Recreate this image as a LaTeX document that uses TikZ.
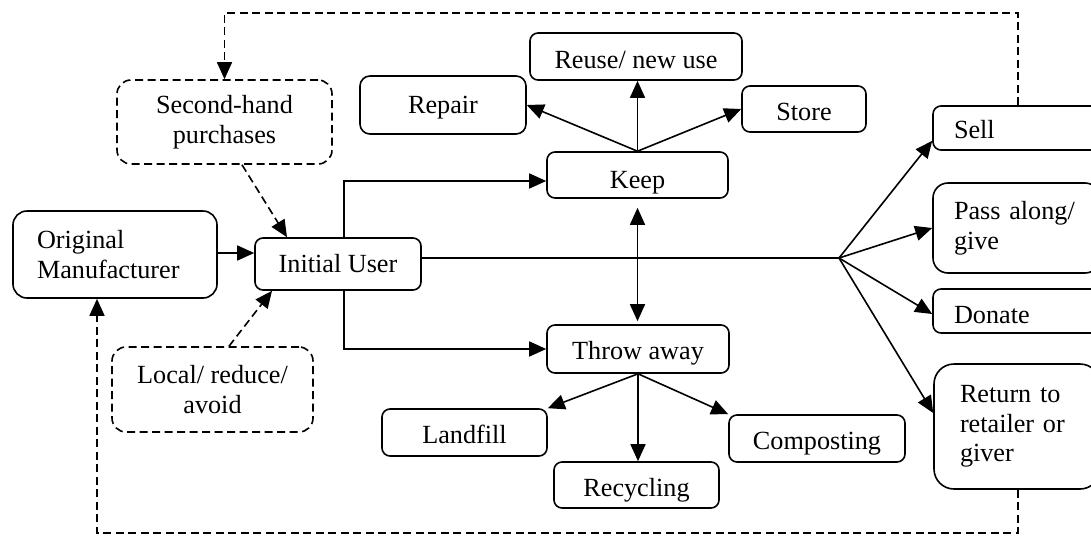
\documentclass[tikz,border=0pt]{standalone}
\usepackage{fontspec}
\setmainfont{Liberation Serif}
\usetikzlibrary{arrows.meta}
\begin{document}
\begin{tikzpicture}[x=1pt,y=-1pt,
  box/.style={draw, line width=1.6pt, inner sep=0pt, rounded corners=8pt,
    font=\fontsize{26.2}{29.5}\selectfont},
  vb/.style 2 args={text height=#1, text depth=#2, anchor=base},
  dsh/.style={dash pattern=on 8pt off 4.5pt},
  arr/.style={line width=1.6pt, -{Triangle[length=17pt,width=15pt]}},
  darr/.style={line width=1.6pt, {Triangle[length=17pt,width=15pt]}-{Triangle[length=17pt,width=15pt]}},
  ln/.style={line width=1.6pt}]
\useasboundingbox (0,0) rectangle (1091,536);
\clip (0,0) rectangle (1091,536);

% single-line nodes (placed by baseline)
\node[box, vb={37pt}{21pt}, minimum width=166pt, rounded corners=10pt] (repair) at (443,113) {Repair};
\node[box, vb={35pt}{12pt}, minimum width=212pt] (reuse) at (636,68) {Reuse/ new use};
\node[box, vb={34pt}{12pt}, minimum width=124pt] (store) at (804,120) {Store};
\node[box, vb={36pt}{10pt}, minimum width=181pt] (keep) at (637.5,188) {Keep};
\node[box, vb={34pt}{18pt}, minimum width=166pt] (user) at (338,272) {Initial User};
\node[box, vb={34pt}{14pt}, minimum width=182pt] (throw) at (638,359) {Throw away};
\node[box, vb={34pt}{13pt}, minimum width=165pt] (landfill) at (464.5,443) {Landfill};
\node[box, vb={34pt}{12pt}, minimum width=165pt] (recyc) at (636.5,496) {Recycling};
\node[box, vb={34pt}{13pt}, minimum width=176pt] (compost) at (817,449) {Composting};
\node[box, vb={32pt}{12pt}, minimum width=167pt, text width=125pt, align=left] (sell) at (1016.5,138) {Sell};
\node[box, vb={34pt}{10pt}, minimum width=167pt, text width=125pt, align=left] (donate) at (1016.5,323) {Donate};

% multi-line nodes
\node[box, dsh, minimum width=215pt, minimum height=84pt, align=center, rounded corners=14pt] (second) at (224.5,122) {Second-hand\\purchases};
\node[box, dsh, minimum width=201pt, minimum height=85pt, align=center, rounded corners=14pt] (local) at (212.5,389.5) {Local/ reduce/\\avoid};
\node[box, minimum width=204pt, minimum height=87pt, text width=156pt, align=left, rounded corners=14pt] (mfr) at (115,254.5) {Original\\Manufacturer};
\node[box, minimum width=167pt, minimum height=90pt, text width=125pt, align=left, rounded corners=15pt] (pass) at (1016.5,228) {Pass along/\\give};
\node[box, minimum width=166pt, minimum height=125pt, text width=114pt, align=left, rounded corners=20pt] (ret) at (1017,426.5) {Return to\\retailer or\\giver};

\coordinate (fan) at (839,258);
\coordinate (tr) at (1018,13);
\coordinate (bl) at (97,533);

% connectors
\draw[arr] (mfr.east |- 0,253) -- (user.west |- 0,253);
\draw[arr, dsh] ([xshift=17.5pt]second.south) -- ([xshift=-51pt]user.north);
\draw[arr, dsh] ([xshift=16.5pt]local.north) -- ([xshift=-66pt]user.south);
\draw[arr] ([xshift=6pt]user.north) |- ([yshift=-6pt]keep.west);
\draw[arr] ([xshift=6pt]user.south) |- (throw.west);
\draw[ln] (user.east |- fan) -- (fan);
\draw[arr] (fan) -- ([yshift=10pt]sell.south west);
\draw[arr] (fan) -- (pass.west);
\draw[arr] (fan) -- ([yshift=-3pt]donate.west);
\draw[arr] (fan) -- ([yshift=13.5pt]ret.west);

\draw[arr] (keep.north) -- (repair.east);
\draw[arr] (keep.north) -- (keep.north |- reuse.south);
\draw[arr] (keep.north) -- (store.west);
\draw[darr, shorten <=9pt, shorten >=3pt] (keep.south) -- (keep.south |- throw.north);

\draw[arr] (throw.south) -- (landfill.north east);
\draw[arr] (throw.south) -- (throw.south |- recyc.north);
\draw[arr] (throw.south) -- (compost.north west);

\draw[arr, dsh] (sell.north -| tr) -- (tr) -| (second.north);
\draw[arr, dsh] (ret.south -| tr) |- (bl) -- (mfr.south -| bl);
\end{tikzpicture}
\end{document}
